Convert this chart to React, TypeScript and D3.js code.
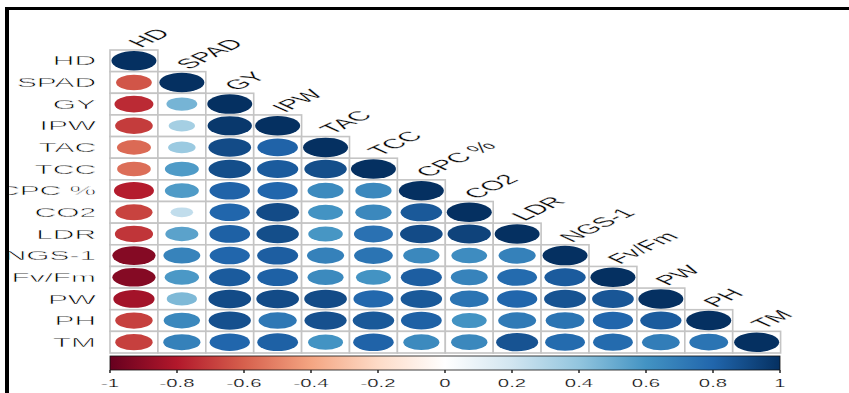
import * as d3 from "d3";

const vars = ["HD", "SPAD", "GY", "IPW", "TAC", "TCC", "CPC %", "CO2", "LDR", "NGS-1", "Fv/Fm", "PW", "PH", "TM"];

// lower triangle, row i holds r(i, 0..i)
const corr: number[][] = [
  [1],
  [-0.63, 1],
  [-0.75, 0.47, 1],
  [-0.7, 0.34, 0.97, 1],
  [-0.57, 0.37, 0.9, 0.81, 1],
  [-0.56, 0.57, 0.89, 0.84, 0.89, 1],
  [-0.79, 0.57, 0.81, 0.8, 0.64, 0.65, 1],
  [-0.68, 0.25, 0.8, 0.9, 0.6, 0.65, 0.85, 1],
  [-0.72, 0.54, 0.82, 0.89, 0.59, 0.75, 0.9, 0.93, 1],
  [-0.92, 0.67, 0.8, 0.83, 0.68, 0.74, 0.65, 0.63, 0.68, 1],
  [-0.92, 0.58, 0.84, 0.82, 0.64, 0.6, 0.83, 0.67, 0.78, 0.84, 1],
  [-0.84, 0.45, 0.9, 0.9, 0.9, 0.79, 0.85, 0.74, 0.8, 0.87, 0.86, 1],
  [-0.69, 0.65, 0.88, 0.72, 0.88, 0.85, 0.82, 0.6, 0.71, 0.74, 0.8, 0.84, 1],
  [-0.69, 0.68, 0.8, 0.82, 0.6, 0.81, 0.64, 0.65, 0.87, 0.78, 0.78, 0.7, 0.74, 1],
];

const palette = ["#67001F", "#B2182B", "#D6604D", "#F4A582", "#FDDBC7", "#FFFFFF", "#D1E5F0", "#92C5DE", "#4393C3", "#2166AC", "#053061"];
const barTicks = [-1, -0.8, -0.6, -0.4, -0.2, 0, 0.2, 0.4, 0.6, 0.8, 1];

const W = 849;
const H = 393;
const font = "'Liberation Sans', Arial, Helvetica, sans-serif";

export default function App() {
  const x = d3.scaleBand<string>().domain(vars).range([110, 780.6]);
  const y = d3.scaleBand<string>().domain(vars).range([50, 353]);
  const cw = x.bandwidth();
  const ch = y.bandwidth();
  const sx = cw / ch;

  const color = d3
    .scaleLinear<string>()
    .domain(d3.range(palette.length).map((i) => -1 + (2 * i) / (palette.length - 1)))
    .range(palette)
    .interpolate(d3.interpolateRgb);

  const bar = d3.scaleLinear().domain([-1, 1]).range([110, 780]);
  const barTop = 356;
  const barBottom = 370;

  const cells: { i: number; j: number; r: number }[] = [];
  corr.forEach((row, i) => row.forEach((r, j) => cells.push({ i, j, r })));

  return (
    <svg width={W} height={H} style={{ position: "absolute", left: 0, top: 0, background: "#fff" }}>
      <defs>
        <linearGradient id="cbar" x1="0" x2="1" y1="0" y2="0">
          {palette.map((c, k) => (
            <stop key={k} offset={k / (palette.length - 1)} stopColor={c} />
          ))}
        </linearGradient>
        <clipPath id="inside">
          <rect x={9} y={10} width={W} height={H} />
        </clipPath>
      </defs>

      {/* grid cells */}
      {cells.map((d) => (
        <rect
          key={`c${d.i}-${d.j}`}
          x={x(vars[d.j])!}
          y={y(vars[d.i])!}
          width={cw}
          height={ch}
          fill="#fff"
          stroke="#c4c4c4"
          strokeWidth={1.6}
        />
      ))}

      {/* circles */}
      {cells.map((d) => {
        const k = Math.sqrt(Math.abs(d.r)) * 0.47;
        return (
          <ellipse
            key={`e${d.i}-${d.j}`}
            cx={x(vars[d.j])! + cw / 2}
            cy={y(vars[d.i])! + ch / 2}
            rx={cw * k}
            ry={ch * k * 0.96}
            fill={color(d.r)}
          />
        );
      })}

      {/* row labels */}
      <g clipPath="url(#inside)" fontFamily={font} fontSize={13.5} fill="#000" stroke="#fff" strokeWidth={0.45}>
        {vars.map((v) => (
          <text
            key={v}
            transform={`translate(96,${y(v)! + ch / 2}) scale(${sx},1)`}
            textAnchor="end"
            dominantBaseline="central"
          >
            {v}
          </text>
        ))}
      </g>

      {/* column labels */}
      <g fontFamily={font} fontSize={13.5} fill="#000" stroke="#fff" strokeWidth={0.2}>
        {vars.map((v) => (
          <text
            key={v}
            transform={`translate(${x(v)! + cw / 2 + 7},${y(v)! - 2}) scale(${sx},1) rotate(-45)`}
          >
            {v}
          </text>
        ))}
      </g>

      {/* colour bar */}
      <rect x={bar(-1)} y={barTop} width={bar(1) - bar(-1)} height={barBottom - barTop} fill="url(#cbar)" stroke="#111" strokeWidth={0.8} />
      {barTicks.map((t) => (
        <g key={t}>
          <line x1={bar(t)} x2={bar(t)} y1={barBottom} y2={barBottom + 3} stroke="#222" strokeWidth={1.5} />
          <text
            transform={`translate(${bar(t)},387) scale(${sx * 0.92},1)`}
            textAnchor="middle"
            fontFamily={font}
            fontSize={10}
            fill="#000"
            stroke="#fff"
            strokeWidth={0.2}
          >
            {t}
          </text>
        </g>
      ))}

      {/* frame */}
      <rect x={5} y={7} width={W - 5} height={3} fill="#000" />
      <rect x={5} y={7} width={4} height={H - 7} fill="#000" />
    </svg>
  );
}
